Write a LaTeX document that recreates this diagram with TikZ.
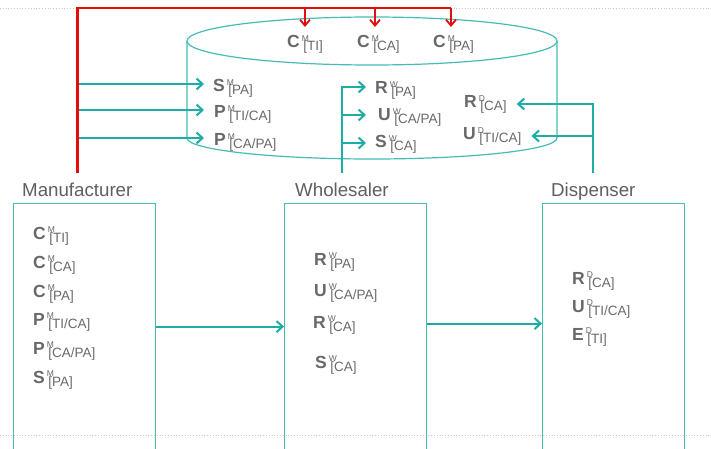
\documentclass[tikz,border=0pt]{standalone}
\usepackage{fontspec}
\setmainfont{Liberation Sans}
\usetikzlibrary{arrows.meta,calc}
\definecolor{tl}{RGB}{30,172,166}
\definecolor{tlb}{RGB}{70,188,182}
\definecolor{rd}{RGB}{228,12,12}
\definecolor{tx}{RGB}{105,105,105}
\definecolor{lbl}{RGB}{95,95,95}
\definecolor{dotc}{RGB}{200,200,200}
\newcommand\vv[3]{{\fontsize{17.5}{18}\selectfont\bfseries #1}\kern2pt\rlap{\raisebox{6.5pt}{\fontsize{8.5}{9}\selectfont #2}}\kern1.5pt\raisebox{-3pt}{\fontsize{13.5}{14}\selectfont #3}}
\tikzset{
  lab/.style={inner sep=0pt, text=tx, anchor=base west},
  head/.style={inner sep=0pt, text=lbl, anchor=base west, font=\fontsize{18.7}{19}\selectfont},
  actor/.style={draw=tlb, line width=1.2pt, minimum width=142pt, minimum height=258pt, anchor=north west, inner sep=0pt},
  cyl/.style={draw=tlb, line width=1.2pt},
  tlarrow/.style={draw=tl, line width=2pt, -{Straight Barb[length=6pt,width=11pt]}},
  redline/.style={draw=rd, line width=2.6pt},
  redarrow/.style={draw=rd, line width=1.8pt, -{Straight Barb[length=6pt,width=10pt]}},
  dotline/.style={draw=dotc, line width=0.8pt, dotted}
}
\begin{document}
\begin{tikzpicture}[x=1pt,y=-1pt]
\clip (0,0) rectangle (711,449);
\fill[white] (0,0) rectangle (711,449);
% dotted guide lines
\draw[dotline] (0,8) -- (711,8);
\draw[dotline] (0,435) -- (711,435);
% cylinder
\draw[cyl] (187,41) -- (187,138) arc[start angle=180,end angle=360,x radius=185pt,y radius=21pt] -- (557,41);
\draw[cyl] (372,41) ellipse [x radius=185pt, y radius=24pt];
% cylinder labels
\node[lab] (cTI) at (287,48) {\vv{C}{M}{[TI]}};
\node[lab] (cCA) at (357,48) {\vv{C}{M}{[CA]}};
\node[lab] (cPA) at (433,48) {\vv{C}{M}{[PA]}};
\node[lab] (sMc) at (213,92) {\vv{S}{M}{[PA]}};
\node[lab] (pMa) at (214,118) {\vv{P}{M}{[TI/CA]}};
\node[lab] (pMb) at (214,146) {\vv{P}{M}{[CA/PA]}};
\node[lab] (rWc) at (375,94) {\vv{R}{W}{[PA]}};
\node[lab] (uWc) at (378,121) {\vv{U}{W}{[CA/PA]}};
\node[lab] (sWc) at (375,148) {\vv{S}{W}{[CA]}};
\node[lab] (rDc) at (464,108) {\vv{R}{D}{[CA]}};
\node[lab] (uDc) at (463,140) {\vv{U}{D}{[TI/CA]}};
% headings
\node[head] (mlab) at (22,196) {Manufacturer};
\node[head] (wlab) at (295,196) {Wholesaler};
\node[head] (dlab) at (551,196) {Dispenser};
% boxes
\node[actor] (mbox) at (13,203) {};
\node[actor] (wbox) at (284,203) {};
\node[actor] (dbox) at (542,203) {};
% box contents
\node[lab] (m1) at (33,239) {\vv{C}{M}{[TI]}};
\node[lab] (m2) at (33,268) {\vv{C}{M}{[CA]}};
\node[lab] (m3) at (33,297) {\vv{C}{M}{[PA]}};
\node[lab] (m4) at (33,325) {\vv{P}{M}{[TI/CA]}};
\node[lab] (m5) at (33,354) {\vv{P}{M}{[CA/PA]}};
\node[lab] (m6) at (33,383) {\vv{S}{M}{[PA]}};
\node[lab] (w1) at (314,265) {\vv{R}{W}{[PA]}};
\node[lab] (w2) at (314,296) {\vv{U}{W}{[CA/PA]}};
\node[lab] (w3) at (313,328) {\vv{R}{W}{[CA]}};
\node[lab] (w4) at (315,368) {\vv{S}{W}{[CA]}};
\node[lab] (d1) at (572,284) {\vv{R}{D}{[CA]}};
\node[lab] (d2) at (572,312) {\vv{U}{D}{[TI/CA]}};
\node[lab] (d3) at (572,340) {\vv{E}{D}{[TI]}};
% flows between actors
\draw[tlarrow] ([yshift=6pt]mbox.east) -- ([yshift=6pt]wbox.west);
\draw[tlarrow] ([yshift=9pt]wbox.east) -- ([yshift=9pt]dbox.west);
% manufacturer to cylinder
\coordinate (tS) at ([shift={(-9,-8)}]sMc.base west);
\coordinate (tPa) at ([shift={(-10,-8)}]pMa.base west);
\coordinate (tPb) at ([shift={(-10,-8)}]pMb.base west);
\draw[tlarrow] (mlab.north |- tS) -- (tS);
\draw[tlarrow] (mlab.north |- tPa) -- (tPa);
\draw[tlarrow] (mlab.north |- tPb) -- (tPb);
% wholesaler to cylinder
\coordinate (wbase) at ($(wlab.north)+(0,-9)$);
\draw[tlarrow] (wbase) |- ([shift={(-9,-7)}]rWc.base west);
\draw[tlarrow] (wbase) |- ([shift={(-12,-6)}]uWc.base west);
\draw[tlarrow] (wbase) |- ([shift={(-9,-5)}]sWc.base west);
% dispenser to cylinder
\coordinate (dbase) at ($(dlab.north)+(0,-9)$);
\draw[tlarrow] (dbase) |- ([shift={(10,-4)}]rDc.base east);
\draw[tlarrow] (dbase) |- ([shift={(10,-4)}]uDc.base east);
% red cost line
\coordinate (mbase) at ($(mlab.north)+(0,-9)$);
\coordinate (rA) at (305,8);
\coordinate (rB) at (375,8);
\coordinate (rEnd) at (451,8);
\draw[redline] (mbase) |- (rEnd);
\draw[redarrow] (rA) -- ++(0,19);
\draw[redarrow] (rB) -- ++(0,19);
\draw[redarrow] (rEnd) -- ++(0,19);
\end{tikzpicture}
\end{document}
